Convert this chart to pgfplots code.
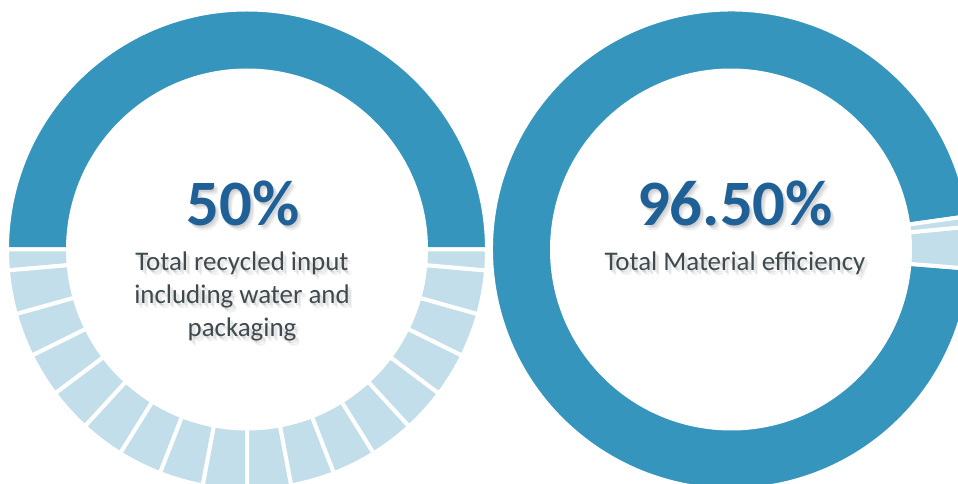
\documentclass[border=0pt]{standalone}
\usepackage{pgfplots}
\pgfplotsset{compat=1.18}
\usepackage{fontspec}
\setmainfont{Carlito}
\definecolor{dblue}{HTML}{3595BC}
\definecolor{lblue}{HTML}{C2DEEA}
\definecolor{tblue}{HTML}{1F6096}
\definecolor{tgray}{HTML}{3F4A4F}
\newcommand{\Ro}{240bp}
\newcommand{\Ri}{179bp}
% annular sector: cx, cy, start angle, end angle, colour
\newcommand{\seg}[5]{\fill[#5,draw=white,line width=4bp] (axis cs:#1,#2) ++(#3:\Ro) arc[start angle=#3,end angle=#4,radius=\Ro] -- ([shift={(#4:\Ri)}]axis cs:#1,#2) arc[start angle=#4,end angle=#3,radius=\Ri] -- cycle;}
\newcommand{\shtext}[4]{% x, y, size, text
  \node[anchor=base,text=black,opacity=0.07,font=#3] at (axis cs:#1+1,#2-2) {#4};
  \node[anchor=base,text=black,opacity=0.07,font=#3] at (axis cs:#1+3,#2-3) {#4};
  \node[anchor=base,text=black,opacity=0.06,font=#3] at (axis cs:#1+4,#2-5) {#4};
  \node[anchor=base,font=#3] at (axis cs:#1,#2) {#4};}
\begin{document}
\begin{tikzpicture}
\clip (0,0) rectangle (958bp,484bp);
\begin{axis}[x=1bp,y=1bp,xmin=0,xmax=958,ymin=0,ymax=484,hide axis,clip=true,anchor=south west,at={(0,0)}]
% left donut: 50% (blue upper half), light lower half in segments
\seg{247}{234.5}{0}{180}{dblue}
\seg{247}{234.5}{180}{185}{lblue}
\seg{247}{234.5}{185}{195.625}{lblue}
\seg{247}{234.5}{195.625}{206.25}{lblue}
\seg{247}{234.5}{206.25}{216.875}{lblue}
\seg{247}{234.5}{216.875}{227.5}{lblue}
\seg{247}{234.5}{227.5}{238.125}{lblue}
\seg{247}{234.5}{238.125}{248.75}{lblue}
\seg{247}{234.5}{248.75}{259.375}{lblue}
\seg{247}{234.5}{259.375}{270}{lblue}
\seg{247}{234.5}{270}{280.625}{lblue}
\seg{247}{234.5}{280.625}{291.25}{lblue}
\seg{247}{234.5}{291.25}{301.875}{lblue}
\seg{247}{234.5}{301.875}{312.5}{lblue}
\seg{247}{234.5}{312.5}{323.125}{lblue}
\seg{247}{234.5}{323.125}{333.75}{lblue}
\seg{247}{234.5}{333.75}{344.375}{lblue}
\seg{247}{234.5}{344.375}{355}{lblue}
\seg{247}{234.5}{355}{360}{lblue}
% right donut: 96.5% blue
\seg{731}{234.5}{8}{355.4}{dblue}
\seg{731}{234.5}{-4.6}{5.5}{lblue}
\seg{731}{234.5}{5.5}{8}{lblue}
% texts
\shtext{243}{259}{\fontsize{65}{65}\selectfont\bfseries\color{tblue}}{50\%}
\shtext{242}{214}{\fontsize{27}{27}\selectfont\color{tgray}}{Total recycled input}
\shtext{242}{181}{\fontsize{27}{27}\selectfont\color{tgray}}{including water and}
\shtext{242}{148}{\fontsize{27}{27}\selectfont\color{tgray}}{packaging}
\shtext{735}{259}{\fontsize{65}{65}\selectfont\bfseries\color{tblue}}{96.50\%}
\shtext{735}{214}{\fontsize{27}{27}\selectfont\color{tgray}}{Total Material efficiency}
\end{axis}
\end{tikzpicture}
\end{document}
